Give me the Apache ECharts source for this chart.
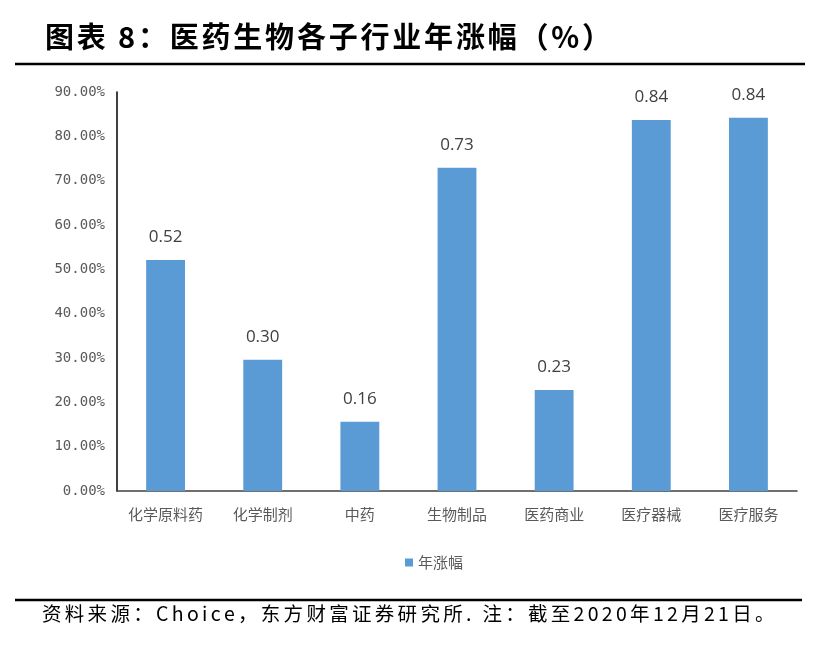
<!DOCTYPE html>
<html><head><meta charset="utf-8">
<script src="https://cdn.jsdelivr.net/npm/echarts@6/dist/echarts.min.js"></script>
<style>html,body{margin:0;padding:0;background:#fff}#c{width:825px;height:650px}</style>
</head><body><div id="c"></div>
<script>
const categories = ['化学原料药','化学制剂','中药','生物制品','医药商业','医疗器械','医疗服务'];
const values = [52.1, 29.6, 15.6, 72.9, 22.8, 83.7, 84.2];
const barLabels = ['0.52','0.30','0.16','0.73','0.23','0.84','0.84'];
const yTicks = [0, 10, 20, 30, 40, 50, 60, 70, 80, 90];
const seriesName = '年涨幅';
const titleText = '图表 8：医药生物各子行业年涨幅（%）';
const sourceText = '资料来源：Choice，东方财富证券研究所. 注：截至2020年12月21日。';

const cjk = '"Noto Sans CJK SC", sans-serif';
const mctx = document.createElement('canvas').getContext('2d');
function spacedText(x, y, text, size, weight, spacing) {
  mctx.font = weight + ' ' + size + 'px "Noto Sans CJK SC"';
  const children = [];
  let cx = x;
  for (const ch of text) {
    children.push({ type: 'text', x: cx, y: y,
      style: { text: ch, fontFamily: cjk, fontWeight: weight, fontSize: size, fill: '#000', textVerticalAlign: 'top' } });
    cx += mctx.measureText(ch).width + spacing;
  }
  return { type: 'group', children: children };
}

const chart = echarts.init(document.getElementById('c'));
chart.setOption({
  animation: false,
  backgroundColor: '#fff',
  grid: { left: 117, right: 28, top: 92, bottom: 159 },
  legend: {
    data: [seriesName], top: 550, left: 400,
    itemWidth: 8, itemHeight: 8, itemGap: 6, icon: 'rect',
    textStyle: { fontFamily: cjk, fontSize: 15, color: '#595959' }
  },
  xAxis: {
    type: 'category', data: categories,
    axisLine: { lineStyle: { color: '#404040', width: 1.5 } },
    axisTick: { show: false },
    axisLabel: { interval: 0, fontFamily: cjk, fontSize: 15, color: '#595959', margin: 16 }
  },
  yAxis: {
    type: 'value', min: yTicks[0], max: yTicks[yTicks.length - 1], interval: 10,
    axisLine: { show: true, lineStyle: { color: '#000', width: 1.5 } },
    axisTick: { show: false },
    splitLine: { show: false },
    axisLabel: {
      fontFamily: '"DejaVu Sans Mono", monospace', fontSize: 14, color: '#595959', margin: 12,
      formatter: v => v.toFixed(2) + '%'
    }
  },
  series: [{
    name: seriesName, type: 'bar', data: values, barWidth: '40%',
    itemStyle: { color: '#5B9BD5' },
    label: {
      show: true, position: 'top', distance: 14,
      fontFamily: '"Open Sans", sans-serif', fontSize: 17, color: '#404040',
      formatter: p => barLabels[p.dataIndex]
    }
  }],
  graphic: [
    spacedText(45, 22, titleText, 29, 'bold', 2.8),
    { type: 'line', shape: { x1: 15, y1: 64, x2: 805, y2: 64 }, style: { stroke: '#000', lineWidth: 2.5 } },
    { type: 'line', shape: { x1: 15, y1: 600, x2: 802, y2: 600 }, style: { stroke: '#000', lineWidth: 2.5 } },
    spacedText(42, 604, sourceText, 19.5, 'normal', 3.3)
  ]
});
</script></body></html>
